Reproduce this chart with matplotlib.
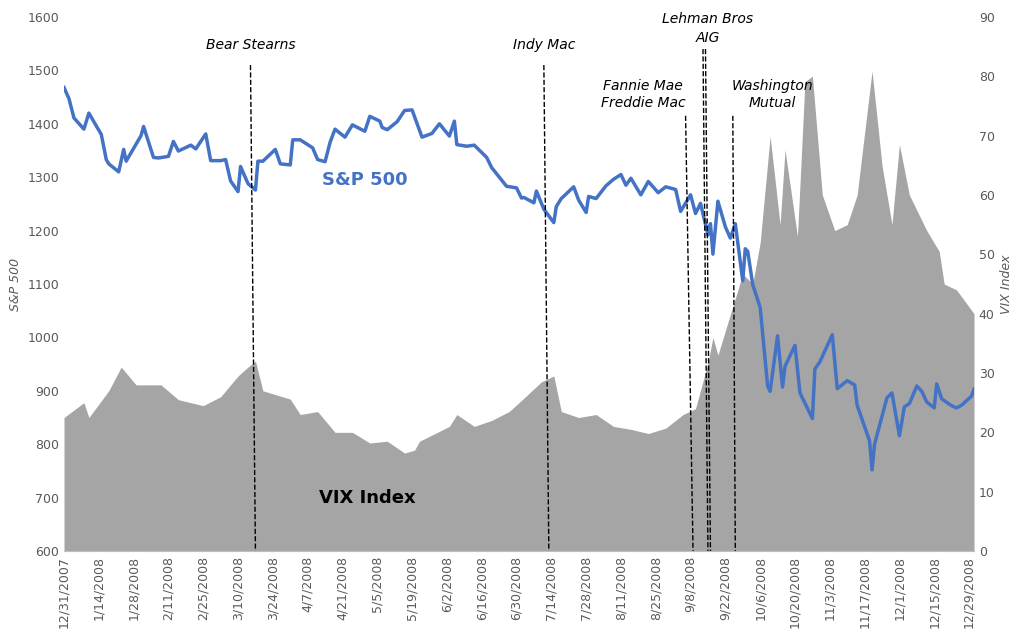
import numpy as np
import matplotlib.pyplot as plt
import matplotlib.dates as mdates
import pandas as pd

# S&P 500 closes
spx_dates = ["2007-12-31","2008-01-02","2008-01-04","2008-01-08","2008-01-10","2008-01-15","2008-01-17","2008-01-18",
"2008-01-22","2008-01-24","2008-01-25","2008-01-29","2008-01-31","2008-02-01","2008-02-05","2008-02-07","2008-02-11",
"2008-02-13","2008-02-15","2008-02-20","2008-02-22","2008-02-26","2008-02-28","2008-03-03","2008-03-05","2008-03-07",
"2008-03-10","2008-03-11","2008-03-14","2008-03-17","2008-03-18","2008-03-20","2008-03-25","2008-03-27","2008-03-31",
"2008-04-01","2008-04-04","2008-04-09","2008-04-11","2008-04-14","2008-04-16","2008-04-18","2008-04-22","2008-04-25",
"2008-04-30","2008-05-02","2008-05-06","2008-05-07","2008-05-09","2008-05-13","2008-05-16","2008-05-19","2008-05-20",
"2008-05-23","2008-05-27","2008-05-30","2008-06-03","2008-06-05","2008-06-06","2008-06-10","2008-06-13","2008-06-18",
"2008-06-20","2008-06-26","2008-06-30","2008-07-02","2008-07-03","2008-07-07","2008-07-08","2008-07-11","2008-07-15",
"2008-07-16","2008-07-18","2008-07-23","2008-07-25","2008-07-28","2008-07-29","2008-08-01","2008-08-05","2008-08-08",
"2008-08-11","2008-08-13","2008-08-15","2008-08-19","2008-08-22","2008-08-26","2008-08-29","2008-09-02","2008-09-04",
"2008-09-08","2008-09-10","2008-09-12","2008-09-15","2008-09-16","2008-09-17","2008-09-18","2008-09-19","2008-09-22",
"2008-09-24","2008-09-26","2008-09-29","2008-09-30","2008-10-01","2008-10-03","2008-10-06","2008-10-09","2008-10-10",
"2008-10-13","2008-10-15","2008-10-16","2008-10-20","2008-10-22","2008-10-24","2008-10-27","2008-10-28","2008-10-30",
"2008-11-04","2008-11-06","2008-11-10","2008-11-13","2008-11-14","2008-11-19","2008-11-20","2008-11-21","2008-11-24",
"2008-11-26","2008-11-28","2008-12-01","2008-12-03","2008-12-05","2008-12-08","2008-12-10","2008-12-12","2008-12-15",
"2008-12-16","2008-12-18","2008-12-22","2008-12-24","2008-12-26","2008-12-30","2008-12-31"]
spx = [1468,1447,1411,1390,1420,1380,1333,1325,1310,1352,1330,1362,1378,1395,1337,1336,1339,1367,1349,1360,1353,1381,
1331,1331,1333,1293,1273,1320,1288,1276,1330,1330,1352,1325,1323,1370,1370,1355,1333,1329,1365,1390,1375,1398,1386,
1414,1405,1393,1389,1404,1425,1426,1413,1375,1382,1400,1377,1405,1361,1358,1360,1337,1318,1283,1280,1261,1262,1252,
1274,1240,1215,1245,1260,1282,1257,1234,1264,1260,1284,1296,1305,1285,1298,1267,1292,1271,1282,1277,1236,1267,1232,
1251,1192,1213,1156,1206,1255,1207,1186,1213,1106,1166,1161,1099,1056,909,899,1003,907,946,985,896,877,848,941,954,
1005,904,919,911,873,806,752,800,852,887,896,816,870,876,909,899,879,868,913,885,872,868,873,890,903]

# VIX index
vix_dates = ["2007-12-31","2008-01-08","2008-01-10","2008-01-18","2008-01-23","2008-01-29","2008-02-05","2008-02-08",
"2008-02-15","2008-02-25","2008-03-03","2008-03-10","2008-03-14","2008-03-17","2008-03-20","2008-03-31","2008-04-04",
"2008-04-11","2008-04-18","2008-04-25","2008-05-02","2008-05-09","2008-05-16","2008-05-20","2008-05-22","2008-06-03",
"2008-06-06","2008-06-13","2008-06-20","2008-06-27","2008-07-01","2008-07-10","2008-07-15","2008-07-18","2008-07-25",
"2008-08-01","2008-08-08","2008-08-15","2008-08-22","2008-08-29","2008-09-05","2008-09-10","2008-09-15","2008-09-17",
"2008-09-19","2008-09-29","2008-10-03","2008-10-06","2008-10-10","2008-10-14","2008-10-16","2008-10-21","2008-10-24",
"2008-10-27","2008-10-31","2008-11-05","2008-11-10","2008-11-14","2008-11-20","2008-11-24","2008-11-28","2008-12-01",
"2008-12-05","2008-12-12","2008-12-17","2008-12-19","2008-12-24","2008-12-31"]
vix = [22.5,25,22.5,27,31,28,28,28,25.5,24.5,26,29.5,31,32,27,25.6,23,23.5,20,20,18.2,18.5,16.5,17,18.5,21,23,21,22,
23.5,25,28.5,29.5,23.5,22.5,23,21,20.5,19.8,20.7,23,24,31.7,36,33,46.7,45,52,69.9,55,67.6,53,79.1,80,60,54,55,60,
80.9,65,55,68.5,60,54,50.5,45,44,40]

tick_dates = pd.date_range("2007-12-31", "2008-12-29", freq="14D")

# events: (label, top date, bottom date, line top value, text date, text value)
events = [("Bear Stearns", "2008-03-15", "2008-03-17", 1510, "2008-03-15", 1535),
          ("Indy Mac", "2008-07-11", "2008-07-13", 1510, "2008-07-11", 1535),
          ("Fannie Mae\nFreddie Mac", "2008-09-06", "2008-09-09", 1415, "2008-08-20", 1425),
          ("Lehman Bros", "2008-09-13", "2008-09-15", 1540, "2008-09-15", 1583),
          ("AIG", "2008-09-14", "2008-09-16", 1540, "2008-09-15", 1548),
          ("Washington\nMutual", "2008-09-25", "2008-09-26", 1415, "2008-10-11", 1425)]

fig = plt.figure(figsize=(10.29, 6.34), dpi=100)
ax = fig.add_axes([64/1029, 1-551/634, 910/1029, 534/634])
ax2 = ax.twinx()

vd = pd.to_datetime(vix_dates)
ax2.fill_between(vd, vix, 0, color="#A5A5A5", lw=0)
ax2.set_ylim(0, 90)
ax2.set_yticks(range(0, 91, 10))
ax.set_zorder(ax2.get_zorder() + 1)
ax.patch.set_visible(False)

ax.plot(pd.to_datetime(spx_dates), spx, color="#4472C4", lw=2.5)
ax.set_ylim(600, 1600)
ax.set_yticks(range(600, 1601, 100))
ax.set_xlim(pd.Timestamp("2007-12-31"), pd.Timestamp("2008-12-31"))
ax.set_xticks(tick_dates)
ax.set_xticklabels([f"{d.month}/{d.day}/{d.year}" for d in tick_dates], rotation=90)

for lab, t, b, top, tx, ty in events:
    ax.plot([pd.Timestamp(t), pd.Timestamp(b)], [top, 600], ls="--", color="black", lw=1)
    ax.text(pd.Timestamp(tx), ty, lab, ha="center", va="bottom", style="italic", fontsize=10, linespacing=1.3)

ax.text(pd.Timestamp("2008-04-30"), 1285, "S&P 500", color="#4472C4", fontsize=13, fontweight="bold", ha="center")
ax.text(pd.Timestamp("2008-05-01"), 690, "VIX Index", color="black", fontsize=13, fontweight="bold", ha="center")

ax.set_ylabel("S&P 500", style="italic", color="#595959", fontsize=9)
ax2.set_ylabel("VIX Index", style="italic", color="#595959", fontsize=9)
for a in (ax, ax2):
    a.tick_params(colors="#595959", labelsize=9, length=0)
    for s in a.spines.values():
        s.set_visible(False)
ax.spines["bottom"].set_visible(True)
ax.spines["bottom"].set_color("#BFBFBF")

fig.savefig("out.png", dpi=100)
